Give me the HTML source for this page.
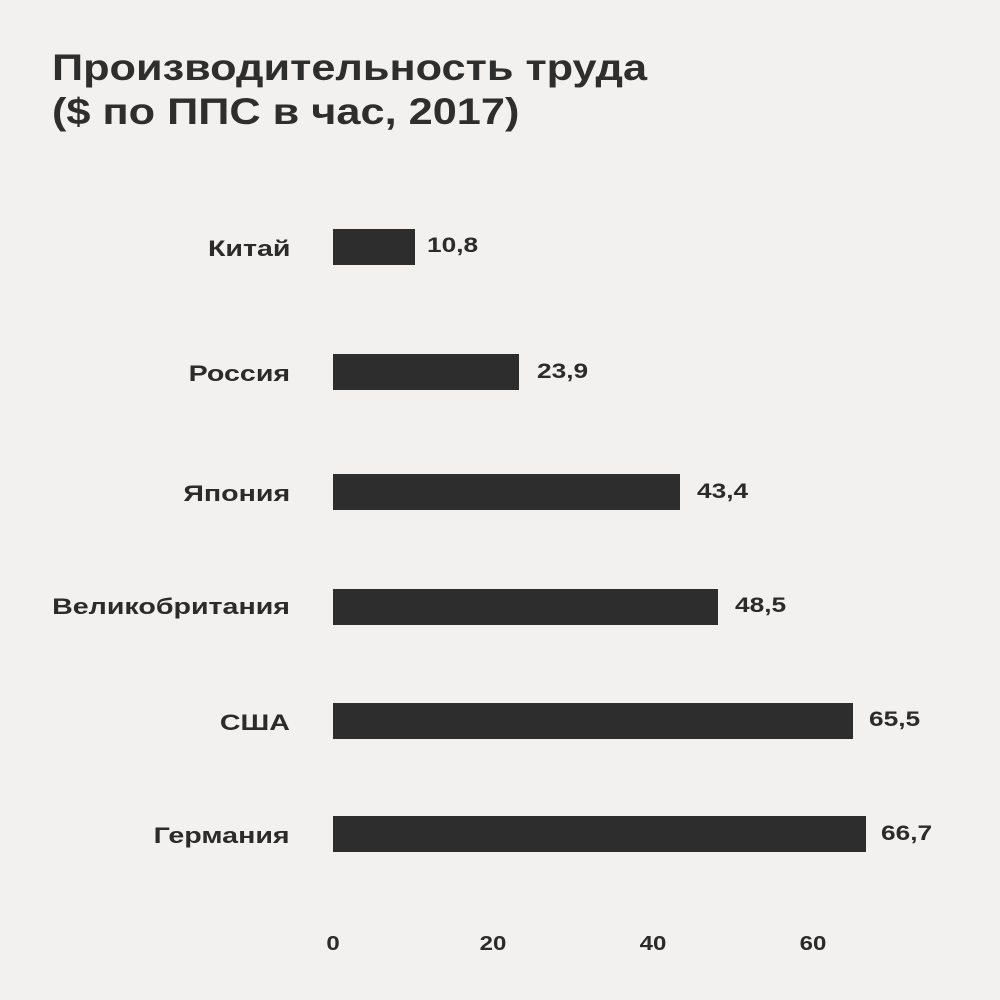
<!DOCTYPE html>
<html><head><meta charset="utf-8"><style>
body{margin:0;width:1000px;height:1000px;background:#f2f1ef;font-family:"Liberation Sans","DejaVu Sans",sans-serif;color:#2b2b2b;position:relative;overflow:hidden}
.t{position:absolute;left:52px;top:46px;font-size:37px;font-weight:bold;line-height:44px;color:#2e2e2e;transform:scaleX(1.17);transform-origin:left top;white-space:nowrap}
.l{position:absolute;right:710px;font-size:22px;font-weight:bold;text-align:right;white-space:nowrap;transform:scaleX(1.3);transform-origin:right top}
.b{position:absolute;left:333px;height:36px;background:#2d2d2d}
.v{position:absolute;font-size:21px;font-weight:bold;transform:scaleX(1.25);transform-origin:left top}
.x{position:absolute;top:933px;font-size:20px;font-weight:bold;width:60px;margin-left:-30px;text-align:center;transform:scaleX(1.2)}
</style></head><body>
<div class="t">Производительность труда<br>($ по ППС в час, 2017)</div>
<div class="l" style="top:236px">Китай</div><div class="b" style="top:229px;width:82px"></div><div class="v" style="left:427px;top:234px">10,8</div>
<div class="l" style="top:361px">Россия</div><div class="b" style="top:354px;width:186px"></div><div class="v" style="left:537px;top:360px">23,9</div>
<div class="l" style="top:481px">Япония</div><div class="b" style="top:474px;width:347px"></div><div class="v" style="left:697px;top:480px">43,4</div>
<div class="l" style="top:594px">Великобритания</div><div class="b" style="top:589px;width:385px"></div><div class="v" style="left:735px;top:594px">48,5</div>
<div class="l" style="top:710px">США</div><div class="b" style="top:703px;width:520px"></div><div class="v" style="left:869px;top:708px">65,5</div>
<div class="l" style="top:823px">Германия</div><div class="b" style="top:816px;width:533px"></div><div class="v" style="left:881px;top:822px">66,7</div>
<div class="x" style="left:333px">0</div><div class="x" style="left:493px">20</div><div class="x" style="left:653px">40</div><div class="x" style="left:813px">60</div>
</body></html>
